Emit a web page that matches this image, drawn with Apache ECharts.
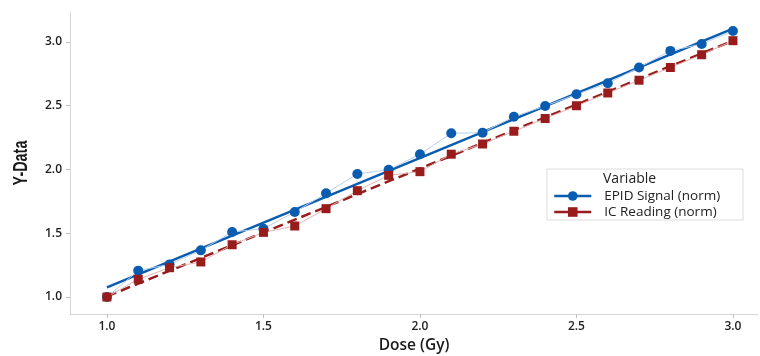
<!DOCTYPE html>
<html>
<head>
<meta charset="utf-8">
<script src="https://cdn.jsdelivr.net/npm/echarts@6/dist/echarts.min.js"></script>
<style>
  html, body { margin: 0; padding: 0; background: #fff; }
  #chart { width: 760px; height: 356px; }
</style>
</head>
<body>
<div id="chart"></div>
<script>
  const dose = [1.0, 1.1, 1.2, 1.3, 1.4, 1.5, 1.6, 1.7, 1.8, 1.9, 2.0, 2.1, 2.2, 2.3, 2.4, 2.5, 2.6, 2.7, 2.8, 2.9, 3.0];
  const epid = [1.00, 1.207, 1.256, 1.366, 1.51, 1.536, 1.667, 1.813, 1.965, 1.998, 2.12, 2.284, 2.289, 2.414, 2.498, 2.59, 2.676, 2.80, 2.93, 2.984, 3.086];
  const ic = [1.00, 1.139, 1.23, 1.275, 1.41, 1.507, 1.557, 1.693, 1.834, 1.954, 1.983, 2.12, 2.20, 2.30, 2.40, 2.50, 2.60, 2.70, 2.80, 2.90, 3.01];
  const fitX = [1.0, 3.0];
  const fitEpid = [1.076, 3.105];
  const fitIc = [1.005, 3.01];
  const ticks = [1.0, 1.5, 2.0, 2.5, 3.0];

  const BLUE = '#0a5cb0';
  const RED = '#981c1c';
  const font = '"Open Sans", "Noto Sans", sans-serif';

  const pairs = (xs, ys) => xs.map((x, i) => [x, ys[i]]);

  const chart = echarts.init(document.getElementById('chart'));
  chart.setOption({
    animation: false,
    backgroundColor: '#fff',
    grid: { left: 70, right: 2, top: 12, bottom: 42, outerBoundsMode: 'none', containLabel: false },
    xAxis: {
      type: 'value',
      min: 0.882,
      max: 3.08,
      name: 'Dose (Gy)',
      nameLocation: 'middle',
      nameGap: 24,
      nameTextStyle: { fontFamily: font, fontSize: 15.5, fontWeight: 600, color: '#1a1a1a' },
      splitLine: { show: false },
      axisLine: { show: true, lineStyle: { color: '#d6d6d6', width: 1 } },
      axisTick: { show: true, length: 4, customValues: ticks, lineStyle: { color: '#bdbdbd' } },
      axisLabel: {
        customValues: ticks,
        formatter: v => v.toFixed(1),
        fontFamily: font, fontSize: 12, fontWeight: 600, color: '#1e1e1e', margin: 7
      }
    },
    yAxis: {
      type: 'value',
      min: 0.867,
      max: 3.235,
      splitLine: { show: false },
      axisLine: { show: true, lineStyle: { color: '#d6d6d6', width: 1 } },
      axisTick: { show: true, length: 4, customValues: ticks, lineStyle: { color: '#bdbdbd' } },
      axisLabel: {
        customValues: ticks,
        formatter: v => v.toFixed(1),
        fontFamily: font, fontSize: 12, fontWeight: 600, color: '#1e1e1e', margin: 8
      }
    },
    legend: {
      orient: 'vertical',
      left: 553,
      top: 189,
      padding: 0,
      itemGap: 2,
      itemWidth: 37,
      itemHeight: 12,
      textStyle: { fontFamily: font, fontSize: 13.5, color: '#222', padding: [0, 0, 0, 8] },
      data: [
        { name: 'EPID Signal (norm)', itemStyle: { color: BLUE }, lineStyle: { color: BLUE, width: 2.5 } },
        { name: 'IC Reading (norm)', itemStyle: { color: RED }, lineStyle: { color: RED, width: 2.5, type: 'solid' } }
      ]
    },
    graphic: [
      {
        type: 'rect',
        shape: { x: 547, y: 169, width: 196, height: 51 },
        style: { fill: '#fff', stroke: '#dcdcdc', lineWidth: 1 },
        z: 0
      },
      {
        type: 'text',
        left: 603,
        top: 172,
        style: { text: 'Variable', font: '14px "Open Sans", sans-serif', fill: '#222' },
        z: 1
      },
      {
        type: 'text',
        x: 21,
        y: 163,
        rotation: Math.PI / 2,
        scaleX: 0.72,
        style: {
          text: 'Y-Data',
          font: 'bold 20px "Liberation Sans", "Open Sans", sans-serif',
          fill: '#1a1a1a',
          align: 'center',
          verticalAlign: 'middle'
        },
        z: 1
      }
    ],
    series: [
      {
        name: 'EPID Signal (norm)',
        type: 'line',
        data: pairs(dose, epid),
        symbol: 'circle',
        symbolSize: 10,
        itemStyle: { color: BLUE },
        lineStyle: { color: '#b8d0ea', width: 1 },
        z: 3
      },
      {
        name: 'EPID fit',
        type: 'line',
        data: pairs(fitX, fitEpid),
        showSymbol: false,
        lineStyle: { color: BLUE, width: 2.5 },
        z: 2
      },
      {
        name: 'IC fit',
        type: 'line',
        data: pairs(fitX, fitIc),
        showSymbol: false,
        lineStyle: { color: RED, width: 2.5, type: [10, 5] },
        z: 2
      },
      {
        name: 'IC Reading (norm)',
        type: 'line',
        data: pairs(dose, ic),
        symbol: 'rect',
        symbolSize: 9,
        itemStyle: { color: RED },
        lineStyle: { color: '#e2b4b4', width: 1 },
        z: 4
      }
    ]
  });
</script>
</body>
</html>
